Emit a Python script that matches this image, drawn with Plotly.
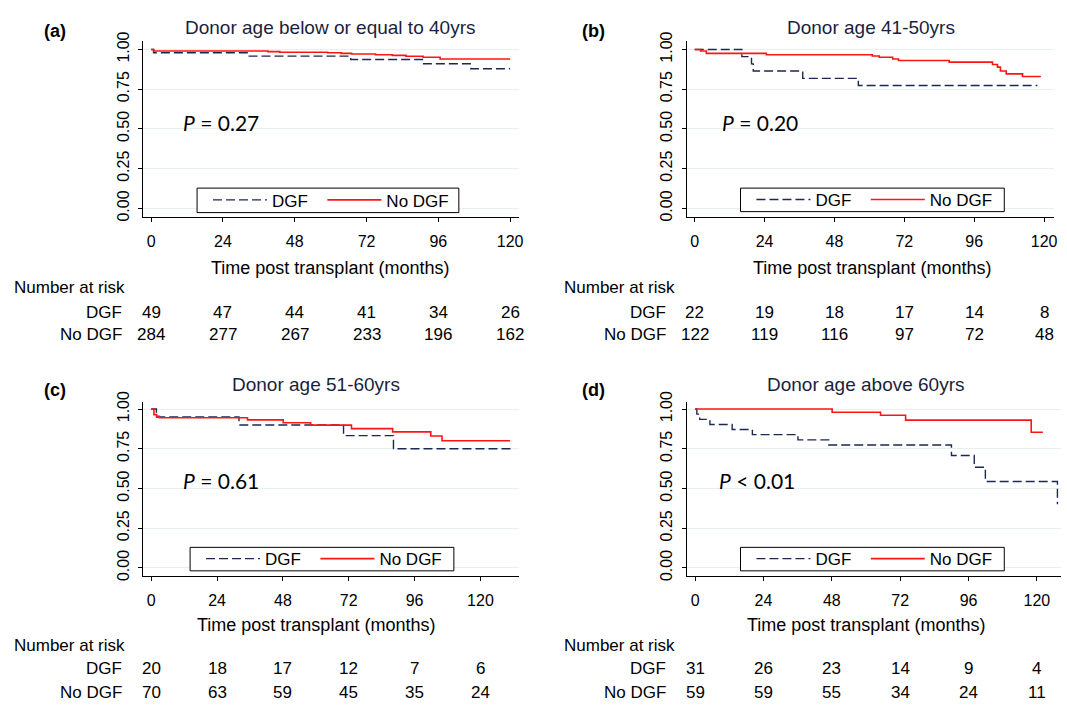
import plotly.graph_objects as go

W, H = 1067, 707
FONT = "Liberation Sans, Arial, sans-serif"
PFONT = "Lato, Liberation Sans, sans-serif"
NAVY = "#1b2850"
RED = "#ff1414"
GRID = "#e8eff0"

# ---------------- data ----------------
ticks_x = [0, 24, 48, 72, 96, 120]
tick_y = [0, 0.25, 0.5, 0.75, 1.0]
tick_y_text = ["0.00", "0.25", "0.50", "0.75", "1.00"]

series_names = ["DGF", "No DGF"]
titles = ["Donor age below or equal to 40yrs", "Donor age 41-50yrs",
          "Donor age 51-60yrs", "Donor age above 60yrs"]
panel_labels = ["(a)", "(b)", "(c)", "(d)"]
p_texts = ["<i>P</i> = 0.27", "<i>P</i> = 0.20", "<i>P</i> = 0.61", "<i>P</i> < 0.01"]
p_pos_x = [10.0, 8.8, 10.8, 7.6]
p_pos_y = [0.54, 0.54, 0.55, 0.55]

a_dgf_t = [0, 0.8, 32.5, 66.7, 90.7, 106.9, 120]
a_dgf_s = [1.0, 0.979, 0.958, 0.937, 0.910, 0.879, 0.879]
a_nodgf_t = [0, 0.8, 39, 43, 59, 63.5, 67, 75, 80.6, 85.2, 90.9, 96.6, 120]
a_nodgf_s = [1.0, 0.990, 0.986, 0.982, 0.979, 0.975, 0.971, 0.967, 0.963, 0.957, 0.951, 0.940, 0.940]

b_dgf_t = [0, 16.2, 19.5, 20.1, 37.1, 56.2, 117.7]
b_dgf_s = [1.0, 0.955, 0.909, 0.864, 0.818, 0.773, 0.773]
b_nodgf_t = [0, 2, 4, 24.6, 61, 63.4, 68, 70, 87.4, 102.3, 104, 105, 107, 112.6, 118.9]
b_nodgf_s = [1.0, 0.99, 0.975, 0.967, 0.959, 0.951, 0.94, 0.93, 0.92, 0.905, 0.889, 0.864, 0.846, 0.83, 0.83]

c_dgf_t = [0, 1.9, 32, 70.1, 88.3, 131.5]
c_dgf_s = [1.0, 0.95, 0.90, 0.833, 0.75, 0.75]
c_nodgf_t = [0, 1, 2, 3, 35.1, 48.1, 58.1, 73, 88, 101.9, 106, 130.8]
c_nodgf_s = [1.0, 0.965, 0.955, 0.945, 0.932, 0.914, 0.899, 0.877, 0.856, 0.83, 0.80, 0.80]

d_dgf_t = [0, 0.6, 1.6, 5.2, 13, 20.1, 36.1, 46.9, 90.0, 98.0, 101.9, 127.2, 127.2]
d_dgf_s = [1.0, 0.968, 0.935, 0.903, 0.871, 0.839, 0.806, 0.774, 0.708, 0.634, 0.544, 0.544, 0.40]
d_nodgf_t = [0, 48.1, 65.1, 73.9, 118, 122.1]
d_nodgf_s = [1.0, 0.98, 0.961, 0.93, 0.854, 0.854]

risk_dgf = [[49, 47, 44, 41, 34, 26], [22, 19, 18, 17, 14, 8],
            [20, 18, 17, 12, 7, 6], [31, 26, 23, 14, 9, 4]]
risk_nodgf = [[284, 277, 267, 233, 196, 162], [122, 119, 116, 97, 72, 48],
              [70, 63, 59, 45, 35, 24], [59, 59, 55, 34, 24, 11]]

curves = [(a_dgf_t, a_dgf_s, a_nodgf_t, a_nodgf_s),
          (b_dgf_t, b_dgf_s, b_nodgf_t, b_nodgf_s),
          (c_dgf_t, c_dgf_s, c_nodgf_t, c_nodgf_s),
          (d_dgf_t, d_dgf_s, d_nodgf_t, d_nodgf_s)]

# ---------------- layout geometry (pixels) ----------------
geo = [
    dict(l=144, r=521, x0=151.9, x120=512.5, t=32, b=211, y1=40.3, y0=202.7),
    dict(l=690, r=1059, x0=698, x120=1049, t=32, b=211, y1=40.3, y0=202.7),
    dict(l=144, r=521, x0=151.9, x120=482.7, t=400, b=578, y1=407.7, y0=570),
    dict(l=690, r=1066, x0=698.4, x120=1041.8, t=400, b=578, y1=407.7, y0=570),
]
title_pos = [(332, 18), (875, 18), (317, 383), (870, 383)]
label_pos = [(55, 21), (596, 21), (55, 388), (596, 388)]
xtitle_pos = [(332, 264), (876, 264), (317, 628), (870, 628)]
# legend frame boxes: x0, x1, y0, y1
legend_box = [(198, 461, 182, 207), (744, 1009, 182, 206),
              (191, 456, 549, 573), (744, 1009, 549, 573)]
risk_rows = [(284, 309, 332), (284, 309, 332), (649, 673, 697), (649, 673, 697)]
risk_left = [12, 565, 12, 565]
NBSP_PAD = "\u00a0\u00a0"  # spacing after first legend entry

fig = go.Figure()
annotations = []
shapes = []
layout = dict(width=W, height=H, margin=dict(l=0, r=0, t=0, b=0),
              paper_bgcolor="white", plot_bgcolor="white", showlegend=True,
              hovermode=False, font=dict(family=FONT, color="black"))

for i in range(4):
    g = geo[i]
    sfx = "" if i == 0 else str(i + 1)
    xa, ya, lg = "x" + sfx, "y" + sfx, "legend" + sfx
    pxm = (g["x120"] - g["x0"]) / 120.0
    xr = [(g["l"] - g["x0"]) / pxm, (g["r"] - g["x0"]) / pxm]
    pyu = g["y0"] - g["y1"]
    yr = [-(g["b"] - g["y0"]) / pyu, 1 + (g["y1"] - g["t"]) / pyu]

    dt, ds, nt, ns = curves[i]
    fig.add_trace(go.Scatter(x=dt, y=ds, mode="lines", name=series_names[0] + NBSP_PAD,
                             line=dict(shape="hv", color=NAVY, width=1.4, dash="9px,4px"),
                             xaxis=xa, yaxis=ya, legend=lg))
    fig.add_trace(go.Scatter(x=nt, y=ns, mode="lines", name=series_names[1],
                             line=dict(shape="hv", color=RED, width=1.6),
                             xaxis=xa, yaxis=ya, legend=lg))

    layout["xaxis" + sfx] = dict(
        domain=[g["l"] / W, g["r"] / W], range=xr, anchor=ya,
        tickvals=ticks_x, ticks="outside", ticklen=4, tickcolor="black",
        showline=True, linecolor="black", linewidth=1, showgrid=False,
        zeroline=False, tickfont=dict(size=16, family=FONT, color="black"),
        ticklabelstandoff=6, fixedrange=True)
    layout["yaxis" + sfx] = dict(
        domain=[1 - g["b"] / H, 1 - g["t"] / H], range=yr, anchor=xa,
        tickvals=tick_y, ticktext=tick_y_text, ticks="outside", ticklen=4,
        tickcolor="black", tickangle=-90, showline=True, linecolor="black",
        linewidth=1, showgrid=True, gridcolor=GRID, gridwidth=1, zeroline=False,
        tickfont=dict(size=16, family=FONT, color="black"), ticklabelstandoff=3,
        fixedrange=True)

    bx0, bx1, by0, by1 = legend_box[i]
    shapes.append(dict(type="rect", xref="paper", yref="paper",
                       x0=bx0 / W, x1=bx1 / W, y0=1 - by1 / H, y1=1 - by0 / H,
                       line=dict(color="black", width=1), fillcolor="white", layer="above"))
    layout[lg] = dict(x=(bx0 + 11) / W, y=1 - ((by0 + by1) / 2) / H,
                      xanchor="left", yanchor="middle",
                      orientation="h", borderwidth=0, bgcolor="rgba(0,0,0,0)",
                      font=dict(size=17, family=FONT, color="black"),
                      itemwidth=54, tracegroupgap=0)

    tx, ty = title_pos[i]
    annotations.append(dict(text=titles[i], x=tx / W, y=1 - ty / H, xref="paper", yref="paper",
                            showarrow=False, xanchor="center", yanchor="middle",
                            font=dict(size=19, family=FONT, color="#1a1f3d")))
    px, py = label_pos[i]
    annotations.append(dict(text="<b>" + panel_labels[i] + "</b>", x=px / W, y=1 - py / H,
                            xref="paper", yref="paper", showarrow=False,
                            xanchor="center", yanchor="middle",
                            font=dict(size=18, family=FONT, color="black")))
    xtx, xty = xtitle_pos[i]
    annotations.append(dict(text="Time post transplant (months)", x=xtx / W, y=1 - xty / H,
                            xref="paper", yref="paper", showarrow=False,
                            xanchor="center", yanchor="middle",
                            font=dict(size=18, family=FONT, color="black")))
    annotations.append(dict(text=p_texts[i], x=p_pos_x[i], y=p_pos_y[i], xref=xa, yref=ya,
                            showarrow=False, xanchor="left", yanchor="middle",
                            font=dict(size=21, family=PFONT, color="black")))
    r0, r1, r2 = risk_rows[i]
    annotations.append(dict(text="Number at risk", x=risk_left[i] / W, y=1 - r0 / H,
                            xref="paper", yref="paper", showarrow=False,
                            xanchor="left", yanchor="middle",
                            font=dict(size=17, family=FONT, color="black")))
    lab_right = (g["x0"] - 27) / W
    for txt, rr in ((series_names[0], r1), (series_names[1], r2)):
        annotations.append(dict(text=txt, x=lab_right, y=1 - rr / H, xref="paper", yref="paper",
                                showarrow=False, xanchor="right", yanchor="middle",
                                font=dict(size=17, family=FONT, color="black")))
    for j, tv in enumerate(ticks_x):
        annotations.append(dict(text=str(risk_dgf[i][j]), x=tv, y=1 - r1 / H, xref=xa,
                                yref="paper", showarrow=False, xanchor="center",
                                yanchor="middle", font=dict(size=17, family=FONT, color="black")))
        annotations.append(dict(text=str(risk_nodgf[i][j]), x=tv, y=1 - r2 / H, xref=xa,
                                yref="paper", showarrow=False, xanchor="center",
                                yanchor="middle", font=dict(size=17, family=FONT, color="black")))

layout["annotations"] = annotations
layout["shapes"] = shapes
fig.update_layout(**layout)
fig.write_html("out.html", config={"displayModeBar": False},
               post_script="document.body.style.margin='0px';document.body.style.overflow='hidden';")
